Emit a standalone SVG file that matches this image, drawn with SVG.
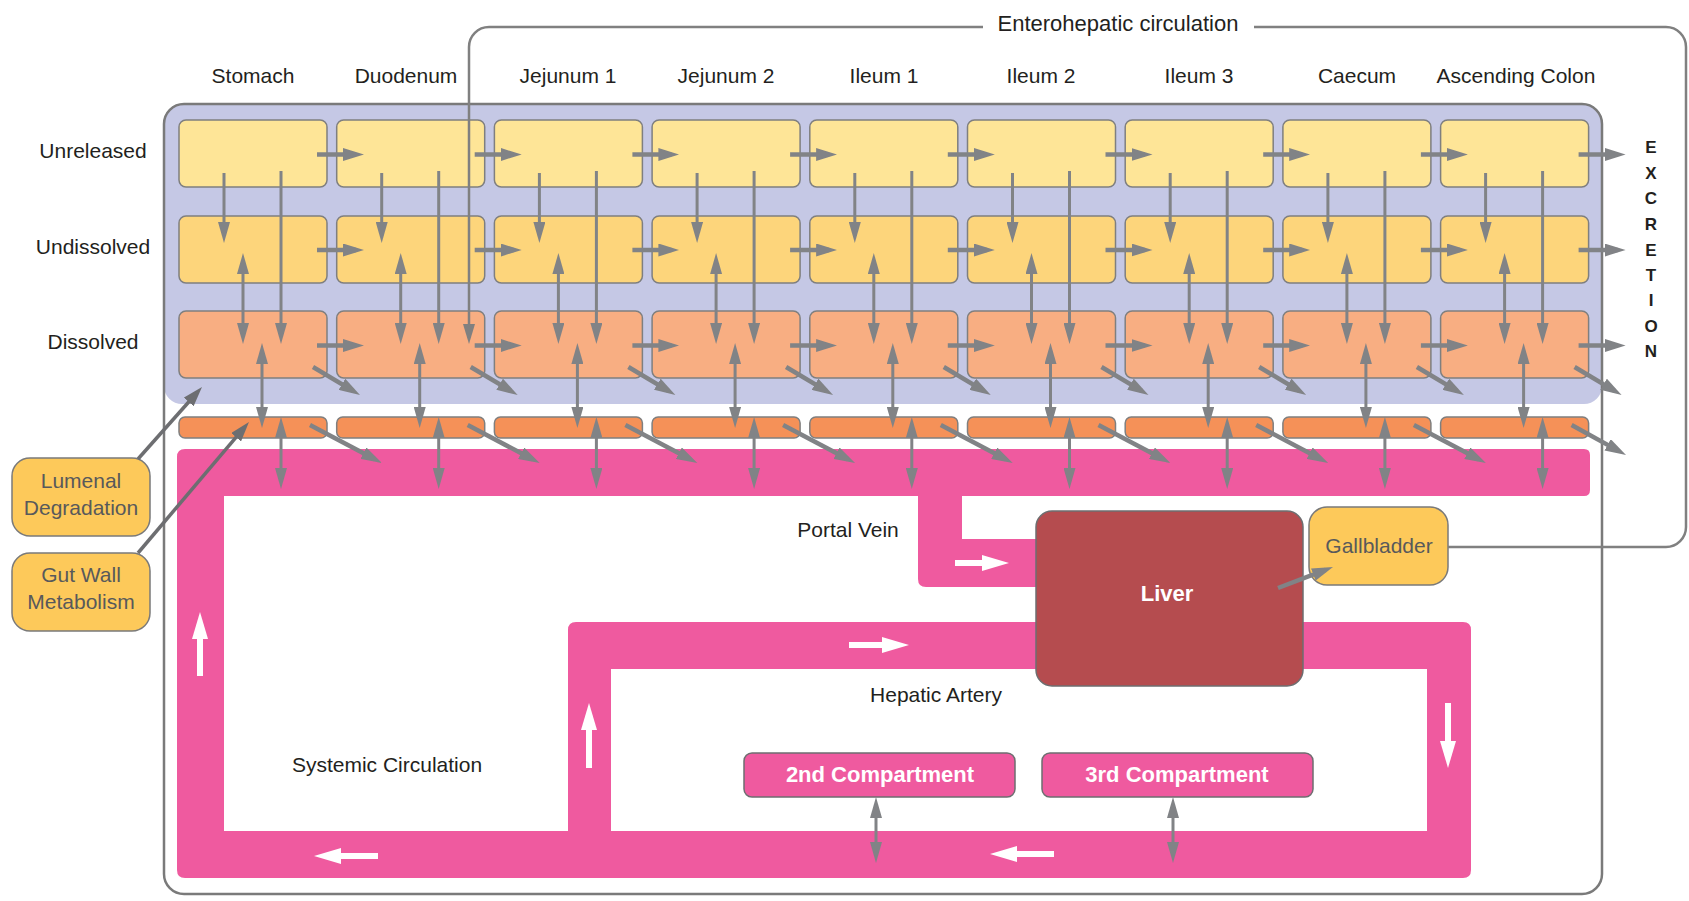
<svg xmlns="http://www.w3.org/2000/svg" width="1689" height="901" viewBox="0 0 1689 901">
<defs>
<style>
text{font-family:"Liberation Sans",Arial,sans-serif;}
.lbl{font-size:21px;fill:#231f20;text-anchor:middle}
.title{font-size:22px;fill:#231f20;text-anchor:middle}
.side{font-size:21px;fill:#58595b;text-anchor:middle}
.wt{font-size:22px;fill:#ffffff;font-weight:bold;text-anchor:middle}
.exc{font-size:17px;fill:#231f20;font-weight:bold;text-anchor:middle}
.bx{stroke:#7f7f7f;stroke-width:1.5}
.b1{fill:#fee597}
.b2{fill:#fdd57b}
.b3{fill:#f8ae82}
.b4{fill:#f59158}
.sb{fill:#fdc95a;stroke:#7a7a7a;stroke-width:1.5}
.tk{stroke:#818386;stroke-width:4.5;fill:none;marker-end:url(#mt)}
.tn{stroke:#818386;stroke-width:3;fill:none;marker-end:url(#mn)}
.db{stroke:#818386;stroke-width:3;fill:none;marker-start:url(#mn);marker-end:url(#mn)}
.dk{stroke:#6d6e71;stroke-width:3.5;fill:none;marker-end:url(#md)}
.wa{stroke:#ffffff;stroke-width:6;fill:none;marker-end:url(#mw)}
.ent{stroke:#808080;stroke-width:2.5;fill:none}
</style>
<marker id="mt" markerUnits="userSpaceOnUse" markerWidth="21" markerHeight="13" refX="13" refY="6.5" orient="auto-start-reverse"><path d="M0,0 L21,6.5 L0,13 Z" fill="#818386"/></marker>
<marker id="mn" markerUnits="userSpaceOnUse" markerWidth="21" markerHeight="12" refX="14" refY="6" orient="auto-start-reverse"><path d="M0,0 L21,6 L0,12 Z" fill="#818386"/></marker>
<marker id="md" markerUnits="userSpaceOnUse" markerWidth="20" markerHeight="13" refX="12" refY="6.5" orient="auto-start-reverse"><path d="M0,0 L20,6.5 L0,13 Z" fill="#6d6e71"/></marker>
<marker id="me" markerUnits="userSpaceOnUse" markerWidth="20" markerHeight="12" refX="14" refY="6" orient="auto-start-reverse"><path d="M0,0 L20,6 L0,12 Z" fill="#808080"/></marker>
<marker id="mw" markerUnits="userSpaceOnUse" markerWidth="27" markerHeight="16" refX="16" refY="8" orient="auto-start-reverse"><path d="M0,0 L27,8 L0,16 Z" fill="#ffffff"/></marker>
</defs>

<rect x="0" y="0" width="1689" height="901" fill="#ffffff"/>

<!-- lumen background and outer frame -->
<g id="lumen">
<rect x="164" y="104" width="1438" height="300" rx="18" fill="#c5c8e5"/>
</g>
<g id="frame">
<rect x="164" y="104" width="1438" height="790" rx="20" fill="none" stroke="#7a7a7a" stroke-width="2.5"/>
</g>

<!-- titles -->
<g id="labels">
<text class="title" x="1118" y="31">Enterohepatic circulation</text>
<text class="lbl" x="253" y="83">Stomach</text>
<text class="lbl" x="406" y="83">Duodenum</text>
<text class="lbl" x="568" y="83">Jejunum 1</text>
<text class="lbl" x="726" y="83">Jejunum 2</text>
<text class="lbl" x="884" y="83">Ileum 1</text>
<text class="lbl" x="1041" y="83">Ileum 2</text>
<text class="lbl" x="1199" y="83">Ileum 3</text>
<text class="lbl" x="1357" y="83">Caecum</text>
<text class="lbl" x="1516" y="83">Ascending Colon</text>
<text class="lbl" x="93" y="158">Unreleased</text>
<text class="lbl" x="93" y="254">Undissolved</text>
<text class="lbl" x="93" y="349">Dissolved</text>
<text class="exc" x="1651" y="153">E</text>
<text class="exc" x="1651" y="179">X</text>
<text class="exc" x="1651" y="204">C</text>
<text class="exc" x="1651" y="230">R</text>
<text class="exc" x="1651" y="256">E</text>
<text class="exc" x="1651" y="281">T</text>
<text class="exc" x="1651" y="306">I</text>
<text class="exc" x="1651" y="332">O</text>
<text class="exc" x="1651" y="357">N</text>
<text class="lbl" x="848" y="537">Portal Vein</text>
<text class="lbl" x="936" y="702">Hepatic Artery</text>
<text class="lbl" x="387" y="772">Systemic Circulation</text>
</g>

<!-- gut compartments -->
<g id="col-stomach" transform="translate(179,0)">
<rect class="bx b1" x="0" y="120" width="148" height="67" rx="7"/><rect class="bx b2" x="0" y="216" width="148" height="67" rx="7"/><rect class="bx b3" x="0" y="311" width="148" height="67" rx="7"/><rect class="bx b4" x="0" y="417" width="148" height="21" rx="6"/>
</g>
<g id="col-duodenum" transform="translate(336.7,0)">
<rect class="bx b1" x="0" y="120" width="148" height="67" rx="7"/><rect class="bx b2" x="0" y="216" width="148" height="67" rx="7"/><rect class="bx b3" x="0" y="311" width="148" height="67" rx="7"/><rect class="bx b4" x="0" y="417" width="148" height="21" rx="6"/>
</g>
<g id="col-jejunum1" transform="translate(494.4,0)">
<rect class="bx b1" x="0" y="120" width="148" height="67" rx="7"/><rect class="bx b2" x="0" y="216" width="148" height="67" rx="7"/><rect class="bx b3" x="0" y="311" width="148" height="67" rx="7"/><rect class="bx b4" x="0" y="417" width="148" height="21" rx="6"/>
</g>
<g id="col-jejunum2" transform="translate(652.1,0)">
<rect class="bx b1" x="0" y="120" width="148" height="67" rx="7"/><rect class="bx b2" x="0" y="216" width="148" height="67" rx="7"/><rect class="bx b3" x="0" y="311" width="148" height="67" rx="7"/><rect class="bx b4" x="0" y="417" width="148" height="21" rx="6"/>
</g>
<g id="col-ileum1" transform="translate(809.8,0)">
<rect class="bx b1" x="0" y="120" width="148" height="67" rx="7"/><rect class="bx b2" x="0" y="216" width="148" height="67" rx="7"/><rect class="bx b3" x="0" y="311" width="148" height="67" rx="7"/><rect class="bx b4" x="0" y="417" width="148" height="21" rx="6"/>
</g>
<g id="col-ileum2" transform="translate(967.5,0)">
<rect class="bx b1" x="0" y="120" width="148" height="67" rx="7"/><rect class="bx b2" x="0" y="216" width="148" height="67" rx="7"/><rect class="bx b3" x="0" y="311" width="148" height="67" rx="7"/><rect class="bx b4" x="0" y="417" width="148" height="21" rx="6"/>
</g>
<g id="col-ileum3" transform="translate(1125.2,0)">
<rect class="bx b1" x="0" y="120" width="148" height="67" rx="7"/><rect class="bx b2" x="0" y="216" width="148" height="67" rx="7"/><rect class="bx b3" x="0" y="311" width="148" height="67" rx="7"/><rect class="bx b4" x="0" y="417" width="148" height="21" rx="6"/>
</g>
<g id="col-caecum" transform="translate(1282.9,0)">
<rect class="bx b1" x="0" y="120" width="148" height="67" rx="7"/><rect class="bx b2" x="0" y="216" width="148" height="67" rx="7"/><rect class="bx b3" x="0" y="311" width="148" height="67" rx="7"/><rect class="bx b4" x="0" y="417" width="148" height="21" rx="6"/>
</g>
<g id="col-ascending-colon" transform="translate(1440.6,0)">
<rect class="bx b1" x="0" y="120" width="148" height="67" rx="7"/><rect class="bx b2" x="0" y="216" width="148" height="67" rx="7"/><rect class="bx b3" x="0" y="311" width="148" height="67" rx="7"/><rect class="bx b4" x="0" y="417" width="148" height="21" rx="6"/>
</g>

<!-- circulation -->
<g id="circulation">
<path fill="#ef5a9f" fill-rule="evenodd" d="M185,449 H1584 Q1590,449 1590,455 V490 Q1590,496 1584,496 H962 V539 H1045 V587 H926 Q918,587 918,579 V496 H224 V831 H568 V630 Q568,622 576,622 H1463 Q1471,622 1471,630 V870 Q1471,878 1463,878 H185 Q177,878 177,870 V457 Q177,449 185,449 Z M611,669 H1427 V831 H611 Z"/>
</g>

<g id="liver">
<rect x="1036" y="511" width="267" height="175" rx="16" fill="#b54c4f" stroke="#6d6e70" stroke-width="1.5"/>
<text class="wt" x="1167" y="601">Liver</text>
</g>
<g id="gallbladder">
<rect class="sb" x="1309" y="507" width="139" height="78" rx="18"/>
<text class="side" x="1379" y="553">Gallbladder</text>
</g>
<g id="lumenal-degradation">
<rect class="sb" x="12" y="458" width="138" height="78" rx="18"/>
<text class="side" x="81" y="488">Lumenal</text>
<text class="side" x="81" y="515">Degradation</text>
</g>
<g id="gut-wall-metabolism">
<rect class="sb" x="12" y="553" width="138" height="78" rx="18"/>
<text class="side" x="81" y="582">Gut Wall</text>
<text class="side" x="81" y="609">Metabolism</text>
</g>
<g id="compartment-2">
<rect x="744" y="753" width="271" height="44" rx="8" fill="#ef5a9f" stroke="#6d6e70" stroke-width="1.5"/>
<text class="wt" x="880" y="782">2nd Compartment</text>
</g>
<g id="compartment-3">
<rect x="1042" y="753" width="271" height="44" rx="8" fill="#ef5a9f" stroke="#6d6e70" stroke-width="1.5"/>
<text class="wt" x="1177" y="782">3rd Compartment</text>
</g>

<!-- connectors -->
<g id="connectors">
<g transform="translate(179,0)">
<path class="tk" d="M138,154.5 H177"/><path class="tk" d="M138,250 H177"/><path class="tk" d="M138,345.5 H177"/>
<path class="tn" d="M45,173 V236"/><path class="tn" d="M102,171 V337"/>
<path class="db" d="M64,260 V337"/><path class="db" d="M83,350 V421"/><path class="db" d="M102,424 V482"/>
<path class="tk" d="M134,367 L174.1,390.9"/><path class="tk" d="M131,425 L195.9,459.3"/>
</g>
<g transform="translate(336.7,0)">
<path class="tk" d="M138,154.5 H177"/><path class="tk" d="M138,250 H177"/><path class="tk" d="M138,345.5 H177"/>
<path class="tn" d="M45,173 V236"/><path class="tn" d="M102,171 V337"/>
<path class="db" d="M64,260 V337"/><path class="db" d="M83,350 V421"/><path class="db" d="M102,424 V482"/>
<path class="tk" d="M134,367 L174.1,390.9"/><path class="tk" d="M131,425 L195.9,459.3"/>
</g>
<g transform="translate(494.4,0)">
<path class="tk" d="M138,154.5 H177"/><path class="tk" d="M138,250 H177"/><path class="tk" d="M138,345.5 H177"/>
<path class="tn" d="M45,173 V236"/><path class="tn" d="M102,171 V337"/>
<path class="db" d="M64,260 V337"/><path class="db" d="M83,350 V421"/><path class="db" d="M102,424 V482"/>
<path class="tk" d="M134,367 L174.1,390.9"/><path class="tk" d="M131,425 L195.9,459.3"/>
</g>
<g transform="translate(652.1,0)">
<path class="tk" d="M138,154.5 H177"/><path class="tk" d="M138,250 H177"/><path class="tk" d="M138,345.5 H177"/>
<path class="tn" d="M45,173 V236"/><path class="tn" d="M102,171 V337"/>
<path class="db" d="M64,260 V337"/><path class="db" d="M83,350 V421"/><path class="db" d="M102,424 V482"/>
<path class="tk" d="M134,367 L174.1,390.9"/><path class="tk" d="M131,425 L195.9,459.3"/>
</g>
<g transform="translate(809.8,0)">
<path class="tk" d="M138,154.5 H177"/><path class="tk" d="M138,250 H177"/><path class="tk" d="M138,345.5 H177"/>
<path class="tn" d="M45,173 V236"/><path class="tn" d="M102,171 V337"/>
<path class="db" d="M64,260 V337"/><path class="db" d="M83,350 V421"/><path class="db" d="M102,424 V482"/>
<path class="tk" d="M134,367 L174.1,390.9"/><path class="tk" d="M131,425 L195.9,459.3"/>
</g>
<g transform="translate(967.5,0)">
<path class="tk" d="M138,154.5 H177"/><path class="tk" d="M138,250 H177"/><path class="tk" d="M138,345.5 H177"/>
<path class="tn" d="M45,173 V236"/><path class="tn" d="M102,171 V337"/>
<path class="db" d="M64,260 V337"/><path class="db" d="M83,350 V421"/><path class="db" d="M102,424 V482"/>
<path class="tk" d="M134,367 L174.1,390.9"/><path class="tk" d="M131,425 L195.9,459.3"/>
</g>
<g transform="translate(1125.2,0)">
<path class="tk" d="M138,154.5 H177"/><path class="tk" d="M138,250 H177"/><path class="tk" d="M138,345.5 H177"/>
<path class="tn" d="M45,173 V236"/><path class="tn" d="M102,171 V337"/>
<path class="db" d="M64,260 V337"/><path class="db" d="M83,350 V421"/><path class="db" d="M102,424 V482"/>
<path class="tk" d="M134,367 L174.1,390.9"/><path class="tk" d="M131,425 L195.9,459.3"/>
</g>
<g transform="translate(1282.9,0)">
<path class="tk" d="M138,154.5 H177"/><path class="tk" d="M138,250 H177"/><path class="tk" d="M138,345.5 H177"/>
<path class="tn" d="M45,173 V236"/><path class="tn" d="M102,171 V337"/>
<path class="db" d="M64,260 V337"/><path class="db" d="M83,350 V421"/><path class="db" d="M102,424 V482"/>
<path class="tk" d="M134,367 L174.1,390.9"/><path class="tk" d="M131,425 L195.9,459.3"/>
</g>
<g transform="translate(1440.6,0)">
<path class="tk" d="M138,154.5 H177"/><path class="tk" d="M138,250 H177"/><path class="tk" d="M138,345.5 H177"/>
<path class="tn" d="M45,173 V236"/><path class="tn" d="M102,171 V337"/>
<path class="db" d="M64,260 V337"/><path class="db" d="M83,350 V421"/><path class="db" d="M102,424 V482"/>
<path class="tk" d="M134,367 L174.1,390.9"/><path class="tk" d="M131,425 L178.4,451.1"/>
</g>

<path class="dk" d="M138,459 L196.7,393"/>
<path class="dk" d="M138,553 L243.8,428.1"/>
<path class="tk" d="M1278,588 L1325.5,569.9"/>
<path class="db" d="M876,804 V856"/>
<path class="db" d="M1173,804 V856"/>

<path class="ent" d="M983,27 H489 A20,20 0 0 0 469,47 V338" marker-end="url(#me)"/>
<path class="ent" d="M1254,27 H1666 A20,20 0 0 1 1686,47 V527 A20,20 0 0 1 1666,547 H1448"/>

<path class="wa" d="M200,676 V623"/>
<path class="wa" d="M378,856 H325"/>
<path class="wa" d="M1054,854 H1001"/>
<path class="wa" d="M589,768 V714"/>
<path class="wa" d="M849,645 H898"/>
<path class="wa" d="M955,563 H998"/>
<path class="wa" d="M1448,703 V757"/>
</g>
</svg>
